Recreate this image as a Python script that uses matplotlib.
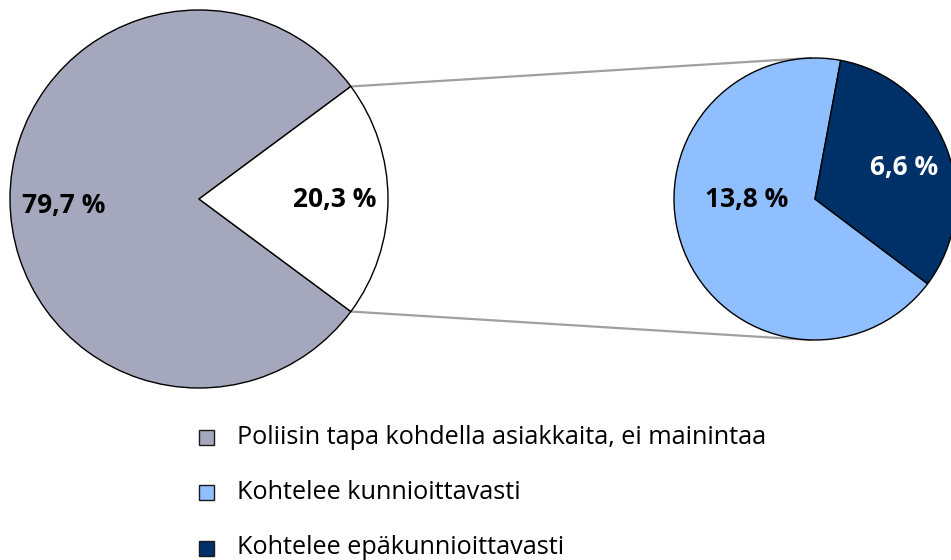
import matplotlib
matplotlib.use("Agg")
import matplotlib.pyplot as plt
import numpy as np
from matplotlib.patches import Rectangle

plt.rcParams['font.family'] = ['Open Sans', 'DejaVu Sans']

# Data
main_values = [79.7, 20.3]
main_labels = ["79,7 %", "20,3 %"]
sub_values = [13.8, 6.6]
sub_labels = ["13,8 %", "6,6 %"]
legend_labels = ["Poliisin tapa kohdella asiakkaita, ei mainintaa",
                 "Kohtelee kunnioittavasti",
                 "Kohtelee epäkunnioittavasti"]

c_gray = "#a5a8bd"
c_light = "#8fbfff"
c_dark = "#003068"

W, H = 951, 560
fig = plt.figure(figsize=(W / 100, H / 100), dpi=100)
ax = fig.add_axes([0, 0, 1, 1])

# main pie (the white part is split out to the right)
c1 = (199, H - 199)
r1 = 189
half = main_values[1] / 100 * 360 / 2
ax.pie(main_values, colors=[c_gray, "white"], startangle=half, counterclock=True,
       center=c1, radius=r1, frame=True,
       wedgeprops=dict(edgecolor="black", linewidth=1))

# secondary pie
c2 = (815, H - 199)
r2 = 141
ax.pie(sub_values, colors=[c_light, c_dark], startangle=79.5, counterclock=True,
       center=c2, radius=r2, frame=True,
       wedgeprops=dict(edgecolor="black", linewidth=1))
ax.set_xlim(0, W)
ax.set_ylim(0, H)
ax.set_aspect("equal")
ax.axis("off")

# connector lines
for ang, end_y in [(half, c2[1] + r2), (-half, c2[1] - r2)]:
    a = np.deg2rad(ang)
    x0 = c1[0] + r1 * np.cos(a)
    y0 = c1[1] + r1 * np.sin(a)
    ax.plot([x0, c2[0] - 4], [y0, end_y], color="#a0a0a0", lw=1.6, zorder=0)

# labels
lab_font = dict(fontsize=19, fontweight="bold", ha="center", va="center")
ax.text(64, H - 206, main_labels[0], color="black", **lab_font)
ax.text(335, H - 200, main_labels[1], color="black", **lab_font)
ax.text(747, H - 200, sub_labels[0], color="black", **lab_font)
ax.text(904, H - 168, sub_labels[1], color="white", **lab_font)

# legend
for i, (lab, col) in enumerate(zip(legend_labels, [c_gray, c_light, c_dark])):
    yc = H - (437 + 55.5 * i)
    ax.add_patch(Rectangle((199, yc - 7.5), 15, 15, facecolor=col,
                           edgecolor="#1a1a1a", linewidth=1))
    ax.text(237, yc, lab, fontsize=18.2, ha="left", va="center", color="black")

fig.savefig("out.png", dpi=100)
